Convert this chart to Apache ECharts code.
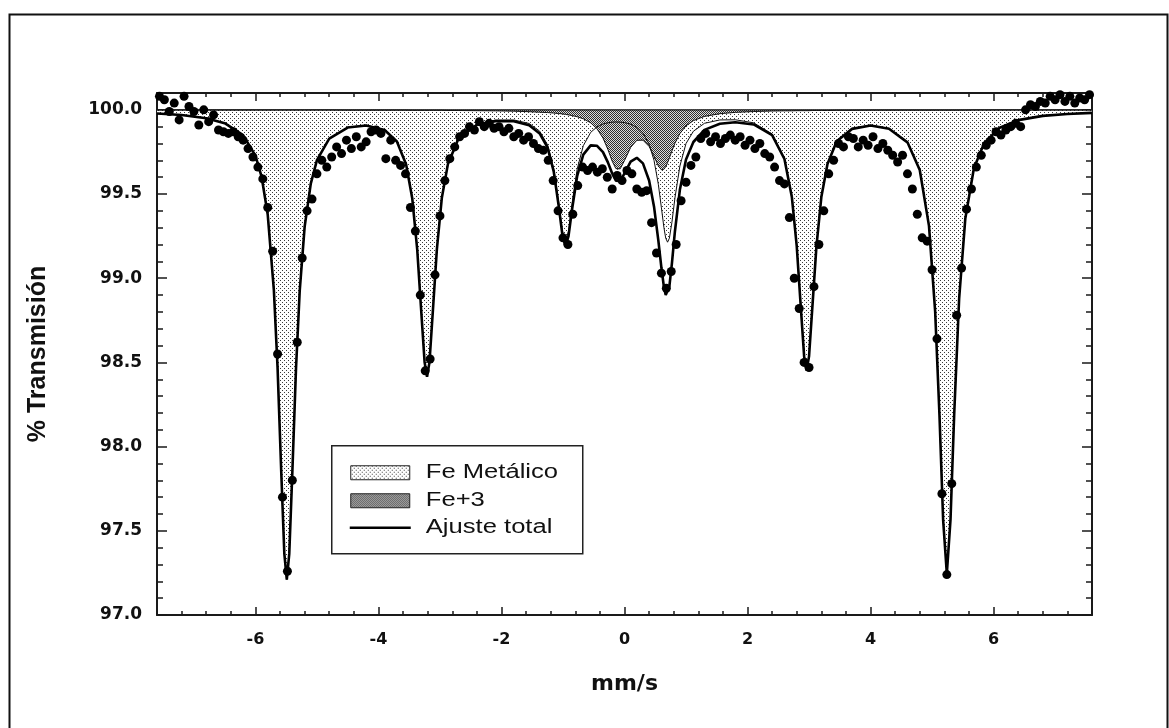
<!DOCTYPE html>
<html>
<head>
<meta charset="utf-8">
<script src="https://cdn.jsdelivr.net/npm/echarts@6.0.0/dist/echarts.min.js"></script>
<style>
  html, body { margin: 0; padding: 0; background: #fff; }
  #chart { width: 1169px; height: 728px; }
</style>
</head>
<body>
<div id="chart"></div>
<script>
var velStart = -7.56;
var velStep = 0.08;
var transmission = [
  100.08, 100.06, 99.99, 100.04, 99.94, 100.08, 100.02, 99.99, 99.91, 100.00,
  99.93, 99.97, 99.88, 99.87, 99.86, 99.87, 99.84, 99.82, 99.77, 99.72,
  99.66, 99.59, 99.42, 99.16, 98.55, 97.70, 97.26, 97.80, 98.62, 99.12,
  99.40, 99.47, 99.62, 99.70, 99.66, 99.72, 99.78, 99.74, 99.82, 99.77,
  99.84, 99.78, 99.81, 99.87, 99.88, 99.86, 99.71, 99.82, 99.70, 99.67,
  99.62, 99.42, 99.28, 98.90, 98.45, 98.52, 99.02, 99.37, 99.58, 99.71,
  99.78, 99.84, 99.86, 99.90, 99.88, 99.93, 99.90, 99.92, 99.89, 99.90,
  99.87, 99.89, 99.84, 99.86, 99.82, 99.84, 99.80, 99.77, 99.76, 99.70,
  99.58, 99.40, 99.24, 99.20, 99.38, 99.55, 99.66, 99.64, 99.66, 99.63,
  99.65, 99.60, 99.53, 99.61, 99.58, 99.64, 99.62, 99.53, 99.51, 99.52,
  99.33, 99.15, 99.03, 98.94, 99.04, 99.20, 99.46, 99.57, 99.67, 99.72,
  99.83, 99.86, 99.81, 99.84, 99.80, 99.83, 99.85, 99.82, 99.84, 99.79,
  99.82, 99.77, 99.80, 99.74, 99.72, 99.66, 99.58, 99.56, 99.36, 99.00,
  98.82, 98.50, 98.47, 98.95, 99.20, 99.40, 99.62, 99.70, 99.80, 99.78,
  99.84, 99.83, 99.78, 99.82, 99.79, 99.84, 99.77, 99.80, 99.76, 99.73,
  99.69, 99.73, 99.62, 99.53, 99.38, 99.24, 99.22, 99.05, 98.64, 97.72,
  97.24, 97.78, 98.78, 99.06, 99.41, 99.53, 99.66, 99.73, 99.79, 99.82,
  99.87, 99.85, 99.88, 99.90, 99.92, 99.90, 100.00, 100.03, 100.02, 100.05,
  100.04, 100.08, 100.06, 100.09, 100.05, 100.08, 100.04, 100.07, 100.06, 100.09
];

// --- fitted curves, read at these velocities
var fitVel = [
  -7.6, -7.2, -6.8, -6.5, -6.2, -6.0, -5.9, -5.8, -5.7, -5.64,
  -5.58, -5.53, -5.49, -5.45, -5.40, -5.34, -5.28, -5.2, -5.1, -5.0,
  -4.8, -4.5, -4.2, -3.9, -3.7, -3.55, -3.45, -3.37, -3.31, -3.25,
  -3.21, -3.17, -3.11, -3.05, -2.97, -2.87, -2.7, -2.4, -2.1, -1.8,
  -1.55, -1.38, -1.25, -1.15, -1.07, -1.01, -0.96, -0.91, -0.85, -0.77,
  -0.67, -0.55, -0.45, -0.35, -0.27, -0.2, -0.14, -0.11, -0.07, 0.0,
  0.1, 0.2, 0.3, 0.4, 0.48, 0.55, 0.6, 0.64, 0.67, 0.70,
  0.73, 0.77, 0.82, 0.9, 1.0, 1.12, 1.3, 1.55, 1.8, 2.1,
  2.4, 2.6, 2.72, 2.8, 2.86, 2.92, 2.96, 3.0, 3.06, 3.12,
  3.2, 3.3, 3.45, 3.7, 4.0, 4.3, 4.6, 4.8, 4.95, 5.05,
  5.12, 5.18, 5.24, 5.30, 5.36, 5.44, 5.54, 5.68, 5.85, 6.1,
  6.4, 6.8, 7.2, 7.6
];
// Fe metálico (sextet)
var fitMetal = [
  99.979, 99.970, 99.951, 99.922, 99.851, 99.729, 99.605, 99.379, 98.930, 98.470,
  97.849, 97.366, 97.211, 97.364, 97.846, 98.467, 98.926, 99.306, 99.563, 99.702,
  99.830, 99.897, 99.909, 99.882, 99.814, 99.678, 99.476, 99.175, 98.838, 98.506,
  98.418, 98.506, 98.838, 99.176, 99.479, 99.683, 99.832, 99.916, 99.939, 99.940,
  99.919, 99.874, 99.792, 99.651, 99.452, 99.282, 99.216, 99.280, 99.449, 99.647,
  99.787, 99.866, 99.898, 99.916, 99.923, 99.927, 99.928, 99.928, 99.927, 99.924,
  99.915, 99.896, 99.862, 99.797, 99.700, 99.558, 99.418, 99.303, 99.238, 99.214,
  99.238, 99.330, 99.477, 99.666, 99.800, 99.873, 99.920, 99.940, 99.941, 99.923,
  99.857, 99.714, 99.490, 99.195, 98.866, 98.542, 98.457, 98.541, 98.865, 99.192,
  99.486, 99.683, 99.816, 99.890, 99.909, 99.890, 99.809, 99.645, 99.313, 98.807,
  98.193, 97.566, 97.248, 97.570, 98.197, 98.880, 99.355, 99.654, 99.805, 99.895,
  99.940, 99.965, 99.976, 99.983
];
// Fe+3 (doublet)
var fitFe3 = [
  99.999, 99.999, 99.999, 99.999, 99.999, 99.999, 99.999, 99.999, 99.999, 99.999,
  99.999, 99.999, 99.999, 99.999, 99.999, 99.999, 99.999, 99.999, 99.999, 99.999,
  99.999, 99.998, 99.998, 99.998, 99.998, 99.998, 99.997, 99.997, 99.997, 99.997,
  99.997, 99.997, 99.997, 99.997, 99.997, 99.996, 99.996, 99.995, 99.994, 99.992,
  99.989, 99.986, 99.984, 99.981, 99.978, 99.976, 99.973, 99.970, 99.966, 99.959,
  99.947, 99.923, 99.889, 99.833, 99.765, 99.695, 99.651, 99.643, 99.650, 99.699,
  99.777, 99.819, 99.820, 99.783, 99.725, 99.667, 99.644, 99.647, 99.662, 99.686,
  99.715, 99.755, 99.802, 99.859, 99.905, 99.936, 99.961, 99.977, 99.985, 99.990,
  99.993, 99.994, 99.994, 99.995, 99.995, 99.995, 99.995, 99.995, 99.996, 99.996,
  99.996, 99.996, 99.997, 99.997, 99.998, 99.998, 99.998, 99.998, 99.998, 99.998,
  99.998, 99.998, 99.998, 99.998, 99.998, 99.998, 99.998, 99.999, 99.999, 99.999,
  99.999, 99.999, 99.999, 99.999
];
// Ajuste total
var fitTotal = [
  99.978, 99.969, 99.950, 99.921, 99.850, 99.728, 99.604, 99.378, 98.929, 98.469,
  97.848, 97.365, 97.210, 97.363, 97.845, 98.466, 98.925, 99.305, 99.562, 99.701,
  99.829, 99.895, 99.907, 99.880, 99.812, 99.676, 99.473, 99.172, 98.835, 98.503,
  98.415, 98.503, 98.835, 99.173, 99.476, 99.679, 99.828, 99.911, 99.933, 99.932,
  99.908, 99.860, 99.776, 99.632, 99.430, 99.258, 99.189, 99.250, 99.415, 99.606,
  99.734, 99.789, 99.787, 99.749, 99.688, 99.622, 99.579, 99.571, 99.577, 99.623,
  99.692, 99.715, 99.682, 99.580, 99.425, 99.225, 99.062, 98.950, 98.900, 98.900,
  98.953, 99.085, 99.279, 99.525, 99.705, 99.809, 99.881, 99.917, 99.926, 99.913,
  99.850, 99.708, 99.484, 99.190, 98.861, 98.537, 98.452, 98.536, 98.861, 99.188,
  99.482, 99.679, 99.813, 99.887, 99.907, 99.888, 99.807, 99.643, 99.311, 98.805,
  98.191, 97.564, 97.246, 97.568, 98.195, 98.878, 99.353, 99.653, 99.804, 99.894,
  99.939, 99.964, 99.975, 99.982
];

var baseLine = 100;
var xMin = -7.6, xMax = 7.6;
var yMin = 97, yMax = 100.1;
var xMajorTicks = [-6, -4, -2, 0, 2, 4, 6];
var legendNames = ['Fe Metálico', 'Fe+3', 'Ajuste total'];

// fill patterns (dotted = metallic, dense grey = Fe+3)
function makePattern(size, bg, dots) {
  var c = document.createElement('canvas');
  c.width = size; c.height = size;
  var g = c.getContext('2d');
  g.fillStyle = bg;
  g.fillRect(0, 0, size, size);
  dots.forEach(function (d) {
    g.fillStyle = d[2];
    g.fillRect(d[0], d[1], 1, 1);
  });
  return { image: c, repeat: 'repeat' };
}
var metalFill = makePattern(4, '#ffffff', [[0, 0, '#3a3a3a'], [2, 2, '#3a3a3a']]);
var fe3Fill = makePattern(2, '#dcdcdc', [[0, 0, '#2e2e2e'], [1, 1, '#2e2e2e']]);

var dataPoints = transmission.map(function (v, i) {
  return [+(velStart + i * velStep).toFixed(2), v];
});
function pairs(ys) {
  return fitVel.map(function (x, i) { return [x, ys[i]]; });
}

// area between the 100 % baseline and a fitted curve, built with the axis scales
function bandSeries(name, ys, fill, z) {
  return {
    name: name, type: 'custom', coordinateSystem: 'cartesian2d',
    data: pairs(ys), z: z, silent: true,
    renderItem: function (params, api) {
      if (params.dataIndex !== 0) return null;
      var pts = [];
      for (var i = 0; i < fitVel.length; i++) pts.push(api.coord([fitVel[i], ys[i]]));
      for (var j = fitVel.length - 1; j >= 0; j--) pts.push(api.coord([fitVel[j], baseLine]));
      return { type: 'polygon', shape: { points: pts }, style: { fill: fill, stroke: null } };
    }
  };
}

var boldFont = 'DejaVu Sans';
var axisColor = '#1a1a1a';

function xAxisDef(pos, major, showLine) {
  var ax = {
    type: 'value', position: pos, min: xMin, max: xMax,
    axisLine: { show: showLine, onZero: false, lineStyle: { color: axisColor, width: 2 } },
    splitLine: { show: false },
    axisLabel: { show: false },
    axisTick: { show: true, inside: true, length: major ? 8 : 4, lineStyle: { color: axisColor, width: 1.5 } }
  };
  if (major) {
    ax.axisTick.customValues = xMajorTicks;
  } else {
    ax.interval = 0.4;
  }
  return ax;
}
function yAxisDef(pos, major, showLine) {
  return {
    type: 'value', position: pos, min: yMin, max: yMax,
    interval: major ? 0.5 : 0.1,
    axisLine: { show: showLine, onZero: false, lineStyle: { color: axisColor, width: 2 } },
    splitLine: { show: false },
    axisLabel: { show: false },
    axisTick: { show: true, inside: true, length: major ? 10 : 6, lineStyle: { color: axisColor, width: 1.5 } }
  };
}

var xBottomMajor = xAxisDef('bottom', true, false);
xBottomMajor.axisLabel = {
  show: true, customValues: xMajorTicks, margin: 17,
  fontFamily: boldFont, fontWeight: 'bold', fontSize: 16, color: '#111',
  formatter: function (v) { return String(v); }
};
xBottomMajor.name = 'mm/s';
xBottomMajor.nameLocation = 'middle';
xBottomMajor.nameGap = 58;
xBottomMajor.nameTextStyle = { fontFamily: boldFont, fontWeight: 'bold', fontSize: 22, color: '#111' };

var yLeftMajor = yAxisDef('left', true, false);
yLeftMajor.axisLabel = {
  show: true, margin: 15, showMaxLabel: false,
  fontFamily: boldFont, fontWeight: 'bold', fontSize: 17, color: '#111',
  formatter: function (v) { return v.toFixed(1); }
};
yLeftMajor.name = '% Transmisión';
yLeftMajor.nameLocation = 'middle';
yLeftMajor.nameRotate = 90;
yLeftMajor.nameGap = 106;
yLeftMajor.nameTextStyle = { fontFamily: 'Liberation Sans', fontWeight: 'bold', fontSize: 25, color: '#111' };

var chart = echarts.init(document.getElementById('chart'), null, { renderer: 'canvas' });

var legendX = 331, legendY = 445;
var option = {
  backgroundColor: '#ffffff',
  animation: false,
  grid: { left: 157, right: 77, top: 93, bottom: 113, containLabel: false },
  xAxis: [
    xAxisDef('bottom', false, true),
    xBottomMajor,
    xAxisDef('top', false, true),
    xAxisDef('top', true, false)
  ],
  yAxis: [
    yAxisDef('left', false, true),
    yLeftMajor,
    yAxisDef('right', false, true),
    yAxisDef('right', true, false)
  ],
  series: [
    bandSeries(legendNames[0], fitMetal, metalFill, 1),
    bandSeries(legendNames[1], fitFe3, fe3Fill, 2),
    {
      name: 'base', type: 'line', data: [[xMin, baseLine], [xMax, baseLine]],
      showSymbol: false, lineStyle: { color: '#111', width: 1.3 }, z: 3
    },
    {
      name: 'metalEdge', type: 'line', data: pairs(fitMetal),
      showSymbol: false, lineStyle: { color: '#111', width: 1 }, z: 3
    },
    {
      name: 'fe3Edge', type: 'line', data: pairs(fitFe3),
      showSymbol: false, lineStyle: { color: '#111', width: 1 }, z: 3
    },
    {
      name: legendNames[2], type: 'line', data: pairs(fitTotal),
      showSymbol: false,
      lineStyle: { color: '#000', width: 2.6 }, z: 4
    },
    {
      name: 'datos', type: 'scatter', data: dataPoints,
      symbol: 'circle', symbolSize: 9,
      itemStyle: { color: '#000', opacity: 1 }, z: 5
    }
  ],
  graphic: [
    {
      type: 'rect', left: 7, top: 12, z: 0,
      shape: { width: 1158, height: 720 },
      style: { fill: null, stroke: '#111', lineWidth: 2 }
    },
    {
      type: 'group', left: legendX, top: legendY, z: 10,
      children: [
        { type: 'rect', shape: { x: 0, y: 0, width: 251, height: 108 },
          style: { fill: '#fff', stroke: '#222', lineWidth: 1.5 } },
        { type: 'rect', shape: { x: 19, y: 20, width: 59, height: 14 },
          style: { fill: metalFill, stroke: '#222', lineWidth: 1 } },
        { type: 'rect', shape: { x: 19, y: 48, width: 59, height: 14 },
          style: { fill: fe3Fill, stroke: '#222', lineWidth: 1 } },
        { type: 'line', shape: { x1: 18, y1: 82, x2: 79, y2: 82 },
          style: { stroke: '#000', lineWidth: 2.5 } },
        { type: 'text', x: 94, y: 27, scaleX: 1.28,
          style: { text: legendNames[0], font: '20px "Liberation Sans"', fill: '#111', verticalAlign: 'middle' } },
        { type: 'text', x: 94, y: 55, scaleX: 1.28,
          style: { text: legendNames[1], font: '20px "Liberation Sans"', fill: '#111', verticalAlign: 'middle' } },
        { type: 'text', x: 94, y: 82, scaleX: 1.28,
          style: { text: legendNames[2], font: '20px "Liberation Sans"', fill: '#111', verticalAlign: 'middle' } }
      ]
    }
  ]
};
chart.setOption(option);
</script>
</body>
</html>
